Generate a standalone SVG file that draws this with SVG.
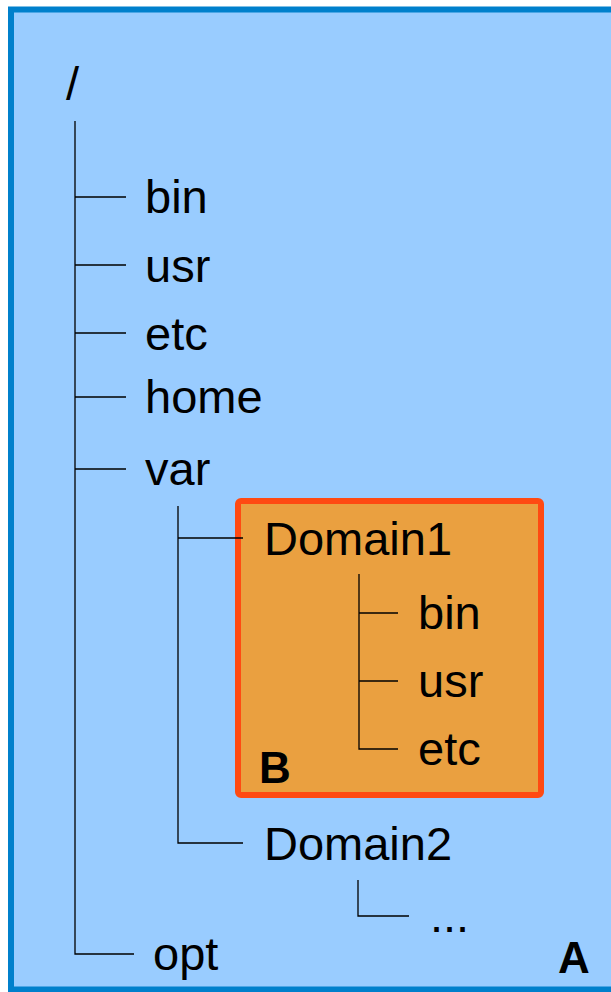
<svg xmlns="http://www.w3.org/2000/svg" width="611" height="992" viewBox="0 0 611 992">
<style>
text{font-family:"Liberation Sans",Arial,sans-serif;font-size:47px;fill:#000}
.b{font-weight:bold;font-size:44px}
.ln{stroke:#000;stroke-width:1.3;fill:none}
</style>
<rect id="A" x="11" y="9.5" width="620" height="980" fill="#99ccff" stroke="#0080cc" stroke-width="6"/>
<g id="domain1box"><rect x="238" y="501" width="303" height="294" rx="3" fill="#eaa040" stroke="#ff4a12" stroke-width="6"/><text class="b" x="259" y="783">B</text></g>
<g id="connectors">
<path class="ln" d="M75 121V954H134M75 197H126M75 265H126M75 333H126M75 397H126M75 469H126"/>
<path class="ln" d="M178 506V843H243M178 538H243"/>
<path class="ln" d="M359 574V749H398M359 613H398M359 681H398"/>
<path class="ln" d="M358 880V916H409"/>
</g>
<g id="root"><text x="66" y="100">/</text></g>
<g id="bin"><text x="145" y="213">bin</text></g>
<g id="usr"><text x="145" y="282">usr</text></g>
<g id="etc"><text x="145" y="350">etc</text></g>
<g id="home"><text x="145" y="413">home</text></g>
<g id="var"><text x="145" y="485">var</text></g>
<g id="domain1"><text x="264" y="555">Domain1</text></g>
<g id="d1bin"><text x="418" y="629">bin</text></g>
<g id="d1usr"><text x="418" y="697">usr</text></g>
<g id="d1etc"><text x="418" y="765">etc</text></g>
<g id="domain2"><text x="264" y="860">Domain2</text></g>
<g id="dots"><text x="430" y="932">...</text></g>
<g id="opt"><text x="153" y="970">opt</text></g>
<g id="labelA"><text class="b" x="558" y="973">A</text></g>
</svg>
